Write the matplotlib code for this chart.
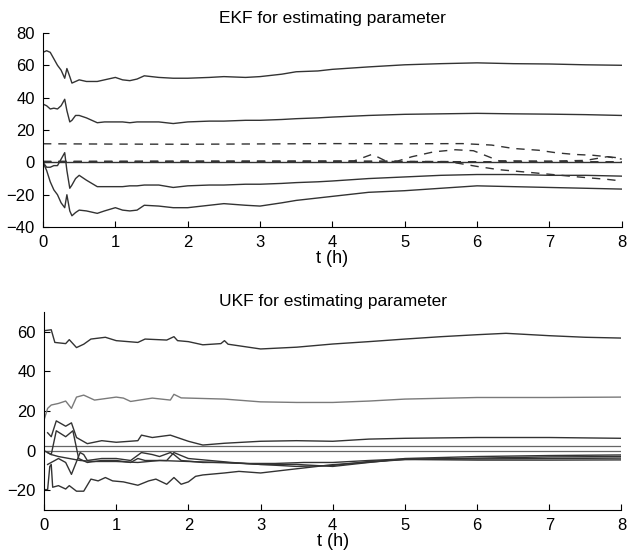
import matplotlib
matplotlib.use("Agg")
import matplotlib.pyplot as plt

plt.rcParams['font.family'] = ['Liberation Sans', 'DejaVu Sans']

# ---- EKF panel ----
ekf_t1 = [0, 0.05, 0.1, 0.15, 0.2, 0.25, 0.3, 0.33, 0.37, 0.4, 0.45, 0.5, 0.6, 0.75, 0.85, 1.0, 1.1, 1.2, 1.3,
          1.4, 1.6, 1.8, 2.0, 2.3, 2.5, 2.8, 3.0, 3.3, 3.5, 3.8, 4.0, 4.5, 5.0, 5.5, 6.0, 6.5, 7.0, 7.5, 8.0]
ekf_top = [68, 69, 68, 64, 60, 57, 52, 58, 53, 49, 50, 51, 50, 50, 51, 52.5, 51, 50.5, 51.5,
           53.5, 52.5, 52, 52, 52.5, 53, 52.5, 53, 54.5, 56, 56.5, 57.5, 59, 60.3, 61, 61.5, 61, 60.8, 60.3, 60]
ekf_second = [36, 35, 33, 33.5, 33, 35, 39, 32, 25, 26, 29, 29, 27.5, 24.5, 25, 25, 25, 24.5, 25,
              25, 25, 24, 25, 25.5, 25.5, 26, 26, 26.5, 27, 27.5, 28, 29, 29.7, 30, 30.3, 30, 29.8, 29.5, 29]
ekf_third = [0, -3, -3, -2, -2, 2, 6, -5, -16, -14, -10, -8, -11, -15, -15, -15, -15, -14.5, -14.5,
             -14, -14, -15.5, -14.5, -14, -14, -13.5, -13.5, -13, -12.5, -12, -11.5, -10, -9, -8, -7.5, -7.5, -8, -8, -8.5]
ekf_bottom = [0, -5, -12, -17, -20, -25, -28, -20, -30, -33, -31, -29.5, -30, -31.5, -30, -28, -29.5, -30, -29.5,
              -26.5, -27, -28, -28, -26.5, -25.5, -26.5, -27, -25, -23.5, -22, -21, -18.5, -17.5, -16, -14.5, -15, -15.5, -16, -16.5]

ekf_zero_t = [0, 8]
ekf_zero = [0, 0]

ekf_d1_t = [0, 1, 2, 3, 4, 5, 5.8, 6.2, 6.5, 6.85, 7.1, 7.35, 7.6, 8.0]
ekf_d1 = [11.5, 11.3, 11.2, 11.4, 11.6, 11.5, 11.6, 10.7, 8.6, 7.5, 5.9, 4.9, 4.4, 2.6]
ekf_d2_t = [0, 1, 2, 3, 4, 4.3, 4.55, 4.75, 5.0, 6.0, 7.0, 8.0]
ekf_d2 = [0.6, 0.7, 0.8, 0.8, 0.8, 0.9, 5.0, 0.6, 0.5, 0.4, 0.4, 0.4]
ekf_d3_t = [0, 1, 2, 3, 4, 4.9, 5.1, 5.4, 5.7, 5.95, 6.3, 7.0, 7.5, 7.8, 8.0]
ekf_d3 = [0.5, 0.5, 0.6, 0.6, 0.7, 0.8, 3.5, 6.5, 7.8, 7.2, 1.0, 0.8, 1.2, 3.5, 2.0]
ekf_d4_t = [0, 1, 2, 3, 4, 5.0, 5.6, 6.0, 6.3, 6.8, 7.4, 7.8, 8.0]
ekf_d4 = [0.3, 0.4, 0.4, 0.5, 0.5, 0.6, 0.5, -2.5, -4.5, -6.5, -9, -10.5, -11.5]

# ---- UKF panel ----
ukf_t1 = [0, 0.1, 0.15, 0.3, 0.35, 0.45, 0.55, 0.65, 0.85, 1.0, 1.3, 1.4, 1.7, 1.8, 1.85, 2.0, 2.2, 2.45, 2.5,
          2.55, 3.0, 3.5, 4.0, 4.5, 5.0, 5.5, 6.0, 6.4, 7.0, 7.5, 8.0]
ukf_top = [60.5, 61, 54.6, 54, 56, 52, 53.7, 56.3, 57.2, 55.5, 54.6, 56.3, 55.8, 57.5, 55.5, 55, 53.4, 54, 55.5,
           53.7, 51.3, 52.2, 53.8, 55, 56.3, 57.5, 58.5, 59.2, 58, 57.2, 56.8]

ukf_t2 = [0, 0.05, 0.1, 0.2, 0.3, 0.38, 0.45, 0.55, 0.7, 1.0, 1.1, 1.2, 1.5, 1.75, 1.8, 1.9, 2.5, 3.0, 3.5,
          4.0, 4.5, 5.0, 6.0, 7.0, 8.0]
ukf_second = [15.4, 21.3, 23, 23.8, 25, 21.3, 27, 28, 25.5, 27, 26.5, 24.8, 26.5, 25.5, 28.4, 26.6, 26, 24.6, 24.3,
              24.3, 25, 26, 26.8, 26.8, 27]

ukf_t3 = [0.05, 0.1, 0.17, 0.3, 0.38, 0.45, 0.6, 0.8, 1.0, 1.3, 1.35, 1.5, 1.75, 2.0, 2.2, 2.5, 3.0, 3.5,
          4.0, 4.5, 5.0, 6.0, 7.0, 8.0]
ukf_third = [9, 7, 15, 12.3, 14, 6.6, 3.5, 5, 4.2, 5, 7.8, 6.6, 7.8, 4.7, 2.8, 3.7, 4.7, 5,
             4.7, 5.8, 6.2, 6.6, 6.6, 6.2]

ukf_t4 = [0.05, 0.1, 0.17, 0.3, 0.4, 0.48, 0.6, 0.8, 1.0, 1.2, 1.3, 1.4, 1.7, 1.8, 2.0, 2.3, 2.6, 3.0, 3.5,
          4.0, 4.5, 5.0, 6.0, 7.0, 8.0]
ukf_fourth = [-1, -2, 10, 7, 10, -4, -6, -5, -5, -6, -4, -5, -5, -1, -4, -5, -6, -7, -7,
              -8, -6, -4, -3, -2.5, -2.2]

ukf_t5 = [0.05, 0.1, 0.2, 0.3, 0.38, 0.5, 0.55, 0.6, 0.8, 1.0, 1.2, 1.35, 1.5, 1.6, 1.75, 1.8, 1.9, 2.2, 2.5,
          3.0, 3.5, 4.0, 4.5, 5.0, 6.0, 7.0, 8.0]
ukf_fifth = [-7, -6, -4, -6, -12, -1, -2, -5, -4, -4, -5, -1, -2, -3, -1, -2, -5, -6, -6,
             -7, -8, -7.5, -5.5, -4.5, -3.8, -3.2, -3.0]

ukf_t6 = [0, 0.05, 0.1, 0.2, 0.35, 0.5, 0.7, 1.0, 1.3, 1.6, 2.0, 2.4, 2.8, 3.2, 3.6, 4.0, 4.5, 5.0, 6.0, 7.0, 8.0]
ukf_sixth = [0, -1, -2, -3, -4, -5, -5.5, -5.5, -6, -5, -5.5, -6, -6.5, -6.5, -6, -6, -5, -4.2, -4.2, -4.0, -3.8]

ukf_t7 = [0, 0.05, 0.08, 0.1, 0.12, 0.2, 0.3, 0.35, 0.45, 0.55, 0.65, 0.75, 0.85, 0.95, 1.1, 1.3, 1.45, 1.55,
          1.7, 1.8, 1.9, 2.0, 2.1, 2.2, 2.5, 2.7, 3.0, 3.4, 4.0, 4.6, 5.0, 6.0, 7.0, 8.0]
ukf_seventh = [-19.7, -19.7, -8, -7, -18.5, -17.7, -19.4, -17.7, -20.5, -20.5, -14.4, -15.3, -13.6, -15.3, -15.8,
               -17.5, -15.3, -14.4, -17, -13.6, -17, -15.8, -13, -12.3, -11.3, -10.5, -11.3, -9.6, -7.1, -5.6, -4.5,
               -4.8, -4.8, -4.7]

ukf_ref_t = [0, 8]
ukf_ref_a = [2.2, 2.2]
ukf_ref_b = [0, 0]

dark = '#333333'
lw = 1.0

fig = plt.figure(figsize=(6.27, 5.58), dpi=100)
ax1 = fig.add_axes([0.0686, 0.593, 0.923, 0.348])
ax2 = fig.add_axes([0.0702, 0.086, 0.921, 0.355])

def style(ax):
    ax.spines['top'].set_visible(False)
    ax.spines['right'].set_visible(False)
    ax.tick_params(direction='in', length=4, width=0.8, labelsize=12, pad=6)
    ax.set_xlim(0, 8)
    ax.set_xticks(range(0, 9))
    ax.set_xlabel("t (h)", fontsize=13, labelpad=0)

# EKF
for y in (ekf_top, ekf_second, ekf_third, ekf_bottom):
    ax1.plot(ekf_t1, y, color=dark, lw=lw)
ax1.plot(ekf_zero_t, ekf_zero, color=dark, lw=lw)
for t, y in ((ekf_d1_t, ekf_d1), (ekf_d2_t, ekf_d2), (ekf_d3_t, ekf_d3), (ekf_d4_t, ekf_d4)):
    ax1.plot(t, y, color=dark, lw=lw, ls=(0, (6, 5)))
style(ax1)
ax1.set_ylim(-40, 80)
ax1.set_yticks(range(-40, 81, 20))
ax1.set_title("EKF for estimating parameter", fontsize=12.5, pad=7)

# UKF
ax2.plot(ukf_t1, ukf_top, color=dark, lw=lw)
ax2.plot(ukf_t2, ukf_second, color='#7a7a7a', lw=lw)
ax2.plot(ukf_ref_t, ukf_ref_a, color='#666666', lw=0.9)
ax2.plot(ukf_ref_t, ukf_ref_b, color='#666666', lw=0.9)
ax2.plot(ukf_t3, ukf_third, color=dark, lw=lw)
ax2.plot(ukf_t4, ukf_fourth, color=dark, lw=lw)
ax2.plot(ukf_t5, ukf_fifth, color=dark, lw=lw)
ax2.plot(ukf_t6, ukf_sixth, color=dark, lw=lw)
ax2.plot(ukf_t7, ukf_seventh, color=dark, lw=lw)
style(ax2)
ax2.set_ylim(-30, 70)
ax2.set_yticks([-20, 0, 20, 40, 60])
ax2.set_title("UKF for estimating parameter", fontsize=12.5, pad=4)

fig.savefig("out.png", dpi=100)
